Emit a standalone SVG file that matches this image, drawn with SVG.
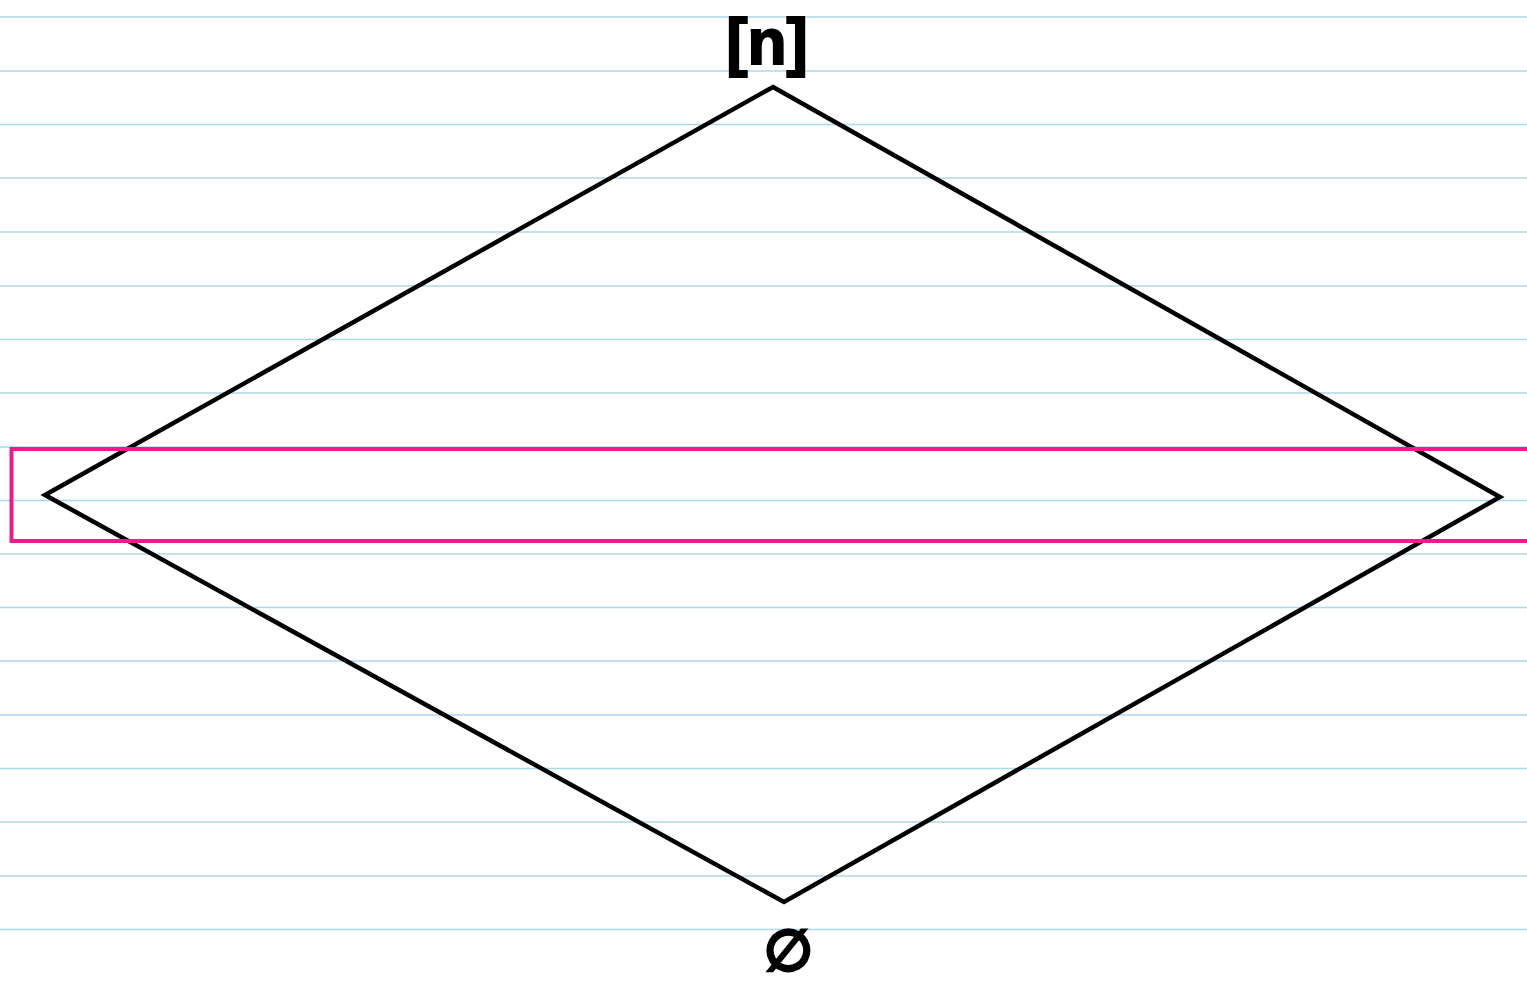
<svg xmlns="http://www.w3.org/2000/svg" width="1527" height="981" viewBox="0 0 1527 981">
<style>
.rule{stroke:#add8e6;stroke-width:1.5}
.diamond{fill:none;stroke:#000;stroke-width:4.5;stroke-linejoin:miter}
.hl{fill:none;stroke:#e91e8c;stroke-width:4}
.lbl{font-family:"Liberation Sans",Arial,sans-serif;font-weight:bold;fill:#000;stroke:#000;stroke-width:2;text-anchor:middle}
</style>
<rect width="1527" height="981" fill="#fff"/>
<g id="paper">
<line class="rule" x1="0" y1="17" x2="1527" y2="17"/>
<line class="rule" x1="0" y1="71" x2="1527" y2="71"/>
<line class="rule" x1="0" y1="124.5" x2="1527" y2="124.5"/>
<line class="rule" x1="0" y1="178" x2="1527" y2="178"/>
<line class="rule" x1="0" y1="232" x2="1527" y2="232"/>
<line class="rule" x1="0" y1="286" x2="1527" y2="286"/>
<line class="rule" x1="0" y1="339.5" x2="1527" y2="339.5"/>
<line class="rule" x1="0" y1="393" x2="1527" y2="393"/>
<line class="rule" x1="0" y1="447" x2="1527" y2="447"/>
<line class="rule" x1="0" y1="500.5" x2="1527" y2="500.5"/>
<line class="rule" x1="0" y1="554" x2="1527" y2="554"/>
<line class="rule" x1="0" y1="607.5" x2="1527" y2="607.5"/>
<line class="rule" x1="0" y1="661" x2="1527" y2="661"/>
<line class="rule" x1="0" y1="715" x2="1527" y2="715"/>
<line class="rule" x1="0" y1="768.5" x2="1527" y2="768.5"/>
<line class="rule" x1="0" y1="822" x2="1527" y2="822"/>
<line class="rule" x1="0" y1="876" x2="1527" y2="876"/>
<line class="rule" x1="0" y1="929.5" x2="1527" y2="929.5"/>
</g>
<g id="lattice">
<polygon class="diamond" points="773,87 1500,497 784,902 45,495"/>
</g>
<g id="highlight">
<rect class="hl" x="11.5" y="449" width="1530" height="92"/>
</g>
<g id="top-label">
<text class="lbl" x="767" y="64" font-size="64">[n]</text>
</g>
<g id="bottom-label">
<text class="lbl" x="788" y="970" font-size="56">∅</text>
</g>
</svg>
